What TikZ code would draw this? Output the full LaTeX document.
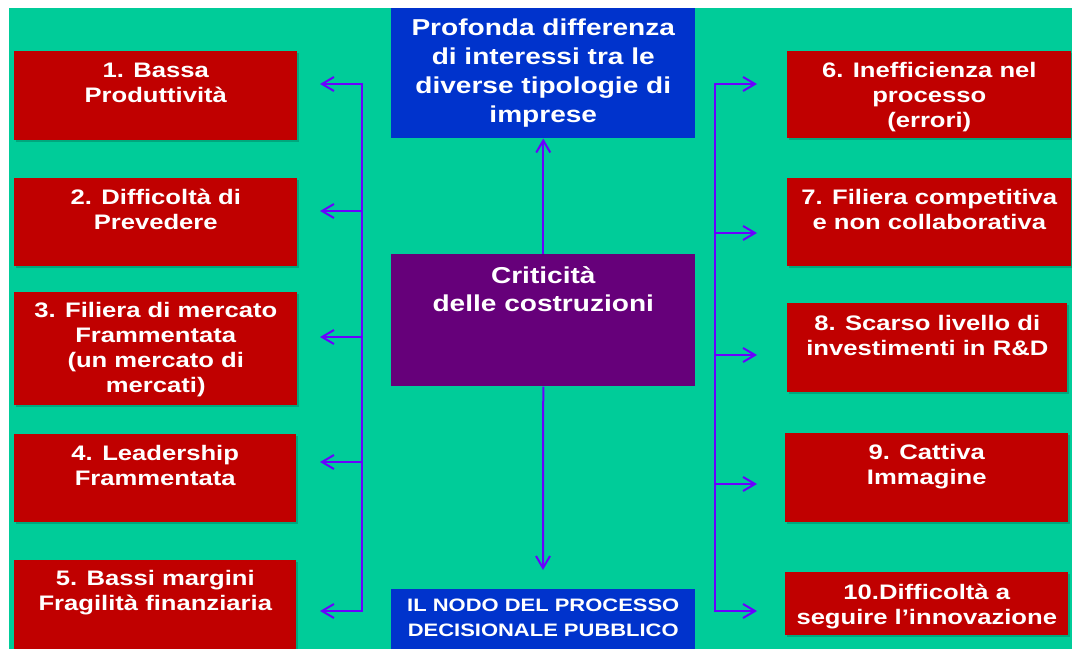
\documentclass[tikz,border=0pt]{standalone}
\usepackage{fontspec}
\setmainfont{Liberation Sans}[FakeStretch=1.22]
\usetikzlibrary{arrows.meta, shadows}
\definecolor{bggreen}{RGB}{0,204,153}
\definecolor{issuered}{RGB}{192,0,0}
\definecolor{topblue}{RGB}{0,51,204}
\definecolor{critpurple}{RGB}{102,0,122}
\definecolor{linkviolet}{RGB}{106,0,255}
\newdimen\pxu \pxu=0.75pt
\newcommand{\cellbox}[4]{\parbox[c][#2\pxu][t]{#1\pxu}{\centering\rule{0pt}{#3\pxu}#4}}
\tikzset{
  RB/.style={fill=issuered,inner sep=0pt,anchor=north west,text=white,font=\fontsize{15.75pt}{18.75pt}\selectfont\bfseries,drop shadow={shadow xshift=1.5pt,shadow yshift=-1.5pt,fill=black,opacity=0.18}},
  BB/.style={fill=topblue,inner sep=0pt,anchor=north west,text=white},
  PB/.style={fill=critpurple,inner sep=0pt,anchor=north west,text=white,font=\fontsize{17.25pt}{21pt}\selectfont\bfseries},
  FL/.style={->,>={Straight Barb[length=9pt,width=10.5pt]},line width=1.5pt,linkviolet},
}
\begin{document}
\begin{tikzpicture}[x=0.75pt,y=-0.75pt]
\useasboundingbox (0,0) rectangle (1072,649);
\fill[white] (0,0) rectangle (1072,649);
\fill[bggreen] (9,8) rectangle (1072,649);

% left column
\node[RB] (b1) at (14,51)  {\cellbox{283}{89}{26}{1. Bassa\\Produttività}};
\node[RB] (b2) at (14,178) {\cellbox{283}{88}{26}{2. Difficoltà di\\Prevedere}};
\node[RB] (b3) at (14,292) {\cellbox{283}{113}{25}{3. Filiera di mercato\\Frammentata\\(un mercato di\\mercati)}};
\node[RB] (b4) at (14,434) {\cellbox{282}{88}{26}{4. Leadership\\Frammentata}};
\node[RB] (b5) at (14,560) {\cellbox{282}{89}{25}{5. Bassi margini\\Fragilità finanziaria}};

% right column
\node[RB] (b6)  at (787,51)  {\cellbox{284}{87}{26}{6. Inefficienza nel\\processo\\(errori)}};
\node[RB] (b7)  at (787,178) {\cellbox{284}{88}{26}{7. Filiera competitiva\\e non collaborativa}};
\node[RB] (b8)  at (787,303) {\cellbox{280}{89}{27}{8. Scarso livello di\\investimenti in R\&D}};
\node[RB] (b9)  at (785,433) {\cellbox{283}{89}{26}{9. Cattiva\\Immagine}};
\node[RB] (b10) at (785,572) {\cellbox{283}{63}{27}{10.Difficoltà a\\seguire l’innovazione}};

% centre column
\node[BB,font=\fontsize{17.25pt}{21.75pt}\selectfont\bfseries] (prof) at (391,8) {\cellbox{304}{130}{27}{Profonda differenza\\di interessi tra le\\diverse tipologie di\\imprese}};
\node[PB] (crit) at (391,254) {\cellbox{304}{132}{29}{Criticità\\delle costruzioni}};
\node[BB,font=\fontsize{13.5pt}{18.75pt}\selectfont\bfseries] (nodo) at (391,589) {\cellbox{304}{60}{22}{IL NODO DEL PROCESSO\\DECISIONALE PUBBLICO}};

% connectors
\coordinate (spl) at (362,84);
\coordinate (spr) at (715,84);
\coordinate (lt) at (320,84);
\coordinate (l2) at (320,211);
\coordinate (l3) at (320,337);
\coordinate (l4) at (320,462);
\coordinate (lb) at (320,611);
\coordinate (rt) at (757,84);
\coordinate (r2) at (757,233);
\coordinate (r3) at (757,355);
\coordinate (r4) at (757,484);
\coordinate (rb) at (757,611);
\coordinate (nodotop) at (543,570);

\draw[FL,<->] (lt) -- (spl) |- (lb);
\foreach \t in {l2,l3,l4} \draw[FL] (spl |- \t) -- (\t);
\draw[FL,<->] (rt) -- (spr) |- (rb);
\foreach \t in {r2,r3,r4} \draw[FL] (spr |- \t) -- (\t);

\draw[FL] (crit.north) -- (prof.south);
\draw[FL] (crit.south) -- (nodotop);

\end{tikzpicture}
\end{document}
